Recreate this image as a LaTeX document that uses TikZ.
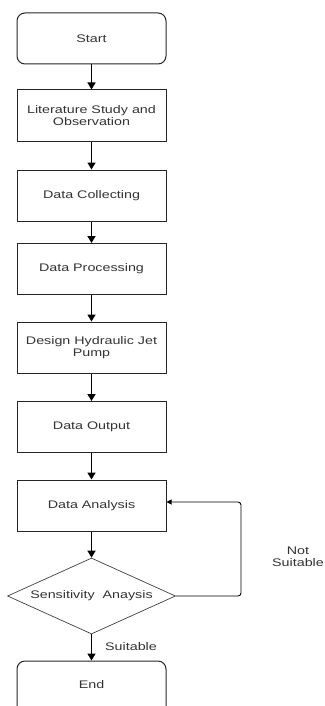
\documentclass[tikz,border=0pt]{standalone}
\usepackage{fontspec}
\setmainfont{Liberation Sans}[FakeStretch=1.3]
\usetikzlibrary{shapes.geometric,arrows.meta}
\begin{document}
\begin{tikzpicture}[x=1pt,y=-1pt,
  every node/.style={font=\fontsize{11}{12.5}\selectfont, text=black!80},
  procbox/.style={draw=black!85, line width=1pt, rectangle, minimum width=149pt, minimum height=51pt, inner sep=0pt, align=center},
  termbox/.style={procbox, rounded corners=8pt},
  decbox/.style={draw=black!75, line width=0.7pt, diamond, minimum width=168pt, minimum height=76pt, inner sep=0pt, shape aspect=2.2},
  flow/.style={line width=1.5pt, -{Triangle[length=7pt,width=8pt]}},
  back/.style={line width=0.9pt, rounded corners=3pt, -{Triangle[length=5pt,width=5pt]}},
  lbl/.style={align=center}]
\useasboundingbox (0,0) rectangle (324,706);
\clip (0,0) rectangle (324,706);
\node[termbox] (start) at (91.5,38.5) {Start};
\node[procbox] (lit) at (91.5,115.5) {Literature Study and\\Observation};
\node[procbox] (coll) at (91.5,195.5) {Data Collecting};
\node[procbox] (proc) at (91.5,269) {Data Processing};
\node[procbox] (design) at (91.5,347.5) {Design Hydraulic Jet\\Pump};
\node[procbox] (out) at (91.5,427) {Data Output};
\node[procbox] (ana) at (91.5,505.5) {Data Analysis};
\node[decbox] (sens) at (91.5,596) {Sensitivity\ \ Anaysis};
\node[termbox, minimum height=80pt] (end) at (91.5,701) {};
\node (endtxt) at (91.5,685) {End};
\coordinate (c1) at (241,596);
\coordinate (c2) at (241,502);
\coordinate (c3) at (ana.east |- c2);
\draw[flow] (start) -- (lit);
\draw[flow] (lit) -- (coll);
\draw[flow] (coll) -- (proc);
\draw[flow] (proc) -- (design);
\draw[flow] (design) -- (out);
\draw[flow] (out) -- (ana);
\draw[flow] (ana) -- (sens);
\draw[flow] (sens.south) -- (end.north);
\draw[back] (sens.east) -- (c1) -- (c2) -- (c3);
\node[lbl] (ns) at (298,557) {Not\\Suitable};
\node[lbl] (su) at (131,647) {Suitable};
\end{tikzpicture}
\end{document}
